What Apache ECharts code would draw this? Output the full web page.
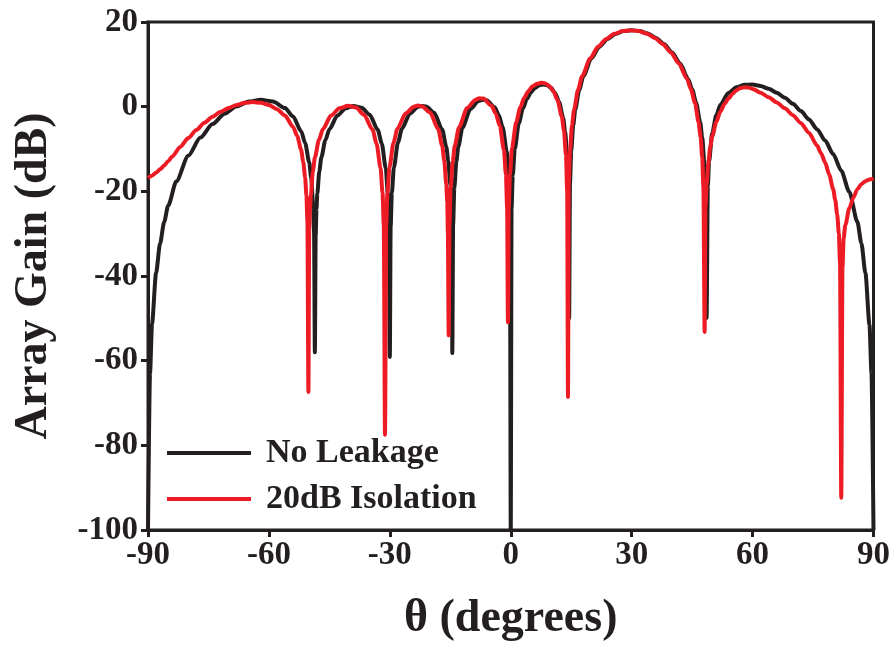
<!DOCTYPE html>
<html>
<head>
<meta charset="utf-8">
<script src="https://cdn.jsdelivr.net/npm/echarts@6/dist/echarts.min.js"></script>
<style>
html,body{margin:0;padding:0;background:#fff;}
#c{width:893px;height:648px;}
</style>
</head>
<body>
<div id="c"></div>
<script>
// No Leakage curve (theta in degrees, gain in dB)
var noLeakTheta = [-90,-89.5,-89,-88,-87,-86,-85,-83,-80,-77,-74,-71,-68,-65,-62,-59,-56,-54,-52,-51,-50,-49.5,-49,-48.8,-48.6,
  -48.4,-48.2,-48,-47.5,-47,-46,-45,-43,-41,-39,-37,-35,-33,-32,-31,-30.5,-30.2,-30,
  -29.8,-29.5,-29,-28,-27,-25,-23,-22,-21,-19,-17,-16,-15.5,-15,-14.8,-14.6,-14.5,
  -14.3,-14,-13.5,-13,-12,-10,-8,-7,-6,-4,-3,-2,-1,-0.5,-0.2,0,
  0.2,0.5,1,2,3,4,5,6,7,8,9,10,11,12,13,13.5,14,14.3,14.48,
  14.7,15,15.5,16,17,18,20,22,24,26,28,30,32,34,36,38,40,42,44,45,46,47,47.5,48,48.3,48.59,
  48.9,49.2,50,51,52,54,56,58,60,62,64,66,68,70,72,74,76,78,80,82,84,86,87,88,89,89.5,90];
var noLeakGain = [-100,-63,-51.3,-39.3,-32.3,-27.3,-23.4,-17.7,-11.6,-7.3,-4.1,-1.65,0.11,1.21,1.63,1.22,-0.32,-2.34,-5.81,-8.64,-13.19,-16.9,-23.8,-29.7,-58,
  -30.5,-24.2,-20.6,-15.3,-12.0,-7.94,-5.33,-2.09,-0.42,0.17,-0.26,-1.9,-5.46,-8.69,-14.57,-20.6,-28.4,-59.1,
  -28.4,-20.4,-14.4,-8.53,-5.22,-1.59,-0.04,0.17,0.03,-1.46,-5.42,-9.44,-12.8,-18.5,-22.7,-31,-58.2,
  -27.8,-19.2,-13.0,-9.4,-5.0,-0.54,1.34,1.62,1.5,-0.13,-1.92,-4.88,-10.47,-16.3,-24.2,-100,
  -24.1,-16.2,-10.0,-3.92,-0.49,1.79,3.36,4.41,5.03,5.26,5.09,4.45,3.23,1.13,-2.62,-5.88,-11.8,-20.2,-50,
  -18.1,-10.5,-4.42,-0.75,4.0,7.18,11.43,14.17,16.01,17.19,17.85,18.06,17.86,17.26,16.25,14.8,12.84,10.21,6.56,4.11,0.93,-3.69,-7.19,-12.7,-19.0,-49.9,
  -18.8,-13.0,-6.14,-2.01,0.44,3.21,4.59,5.17,5.24,4.9,4.24,3.3,2.11,0.66,-1.05,-3.03,-5.33,-8.02,-11.21,-15.13,-20.15,-27.2,-32.3,-39.3,-51.5,-63,-100];

// 20dB Isolation curve
var isoTheta = [-90,-89,-88,-87,-86,-85,-84,-82,-80,-78,-76,-74,-72,-70,-68,-66,-64,-62,-60,-58,-56,-54,-53,-52,-51.5,-51,-50.7,-50.45,-50.2,
  -50.0,-49.8,-49.6,-49.1,-48.6,-47.6,-46.6,-44.6,-42.5,-40.4,-38.4,-36.4,-34.3,-33.3,-32.3,-31.8,-31.5,-31.2,
  -30.9,-30.6,-30.1,-29.1,-28.1,-26.1,-24.05,-23.05,-22.05,-20.0,-18.0,-17.0,-16.5,-16.0,-15.75,-15.6,-15.4,
  -15.2,-14.9,-14.4,-13.9,-12.85,-10.8,-8.8,-7.8,-6.8,-4.75,-3.75,-2.7,-1.7,-1.2,-0.9,-0.7,
  -0.5,-0.2,0.3,1.35,2.35,3.35,4.4,5.4,6.5,7.5,8.6,9.6,10.6,11.6,12.65,13.2,13.7,14.0,14.2,
  14.4,14.7,15.2,15.7,16.7,17.7,19.7,21.7,23.7,25.7,27.7,29.7,31.7,33.7,35.7,37.7,39.7,41.7,43.7,44.7,45.7,46.6,47.1,47.5,47.8,48.1,
  48.3,48.6,49.0,49.5,50,51,52,53,54,55,56,57,58,59,60,62,64,66,68,70,72,74,76,77,78,79,80,80.5,81,81.4,81.7,82.0,
  82.3,82.6,83,84,85,86,87,88,89,90];
var isoGain = [-16.8,-16.3,-15.6,-14.8,-13.9,-12.9,-11.8,-9.5,-7.4,-5.5,-3.8,-2.4,-1.2,-0.3,0.4,0.9,1.1,0.9,0.4,-0.6,-2.1,-4.8,-6.9,-10.2,-13.0,-16.8,-21,-27,-67.4,
  -29,-24,-21,-15.3,-12.0,-7.9,-5.3,-2.1,-0.4,0.2,-0.2,-1.9,-5.4,-8.7,-14.5,-20.5,-28,-77.5,
  -28,-20.4,-14.4,-8.5,-5.2,-1.6,0.0,0.3,0.1,-1.4,-5.3,-9.3,-12.7,-18.4,-22.6,-30,-54,
  -28,-19.2,-13.0,-9.3,-4.9,-0.3,1.6,2.0,1.9,0.2,-1.6,-4.6,-10.2,-16.1,-24,-50.9,
  -24,-16.1,-9.8,-3.7,-0.2,2.1,3.7,4.8,5.4,5.65,5.5,4.85,3.6,1.5,-2.3,-5.6,-11.5,-20,-68.6,
  -18,-10.5,-4.4,-0.75,4.0,7.2,11.4,14.2,16.0,17.2,17.85,18.06,17.86,17.26,16.25,14.8,12.84,10.2,6.6,4.1,0.9,-3.7,-7.2,-12,-19,-53.2,
  -24,-18.5,-13.5,-9.5,-7,-3.6,-1.2,0.6,1.9,3.0,3.9,4.4,4.6,4.5,4.2,3.3,2.2,1.0,-0.4,-2.0,-3.9,-6.2,-9.2,-11.0,-13.2,-16.0,-19.5,-22,-25.5,-30,-37,-92.4,
  -38,-31,-28,-24,-21.5,-19.5,-18.3,-17.6,-17.2,-17.0];

var seriesNames = ['No Leakage', '20dB Isolation'];
var seriesColors = ['#231f20', '#ed1c24'];
var xTicks = [-90, 90, 30];
var yTicks = [-100, 20, 20];

function zip(a, b) { return a.map(function (v, i) { return [v, b[i]]; }); }

var font = '"Liberation Serif","Times New Roman",serif';
var ink = '#231f20';
var chart = echarts.init(document.getElementById('c'), null, {renderer: 'canvas'});
chart.setOption({
  animation: false,
  backgroundColor: '#fff',
  grid: {left: 148, right: 16, top: 22, bottom: 118, show: true, borderColor: ink, borderWidth: 3, backgroundColor: 'transparent'},
  legend: {
    orient: 'vertical', left: 162, top: 431, itemGap: 12,
    icon: 'rect', itemWidth: 84, itemHeight: 4,
    data: seriesNames,
    textStyle: {fontFamily: font, fontWeight: 'bold', fontSize: 34, color: ink, padding: [0, 0, 0, 10]}
  },
  xAxis: {
    type: 'value', min: xTicks[0], max: xTicks[1], interval: xTicks[2],
    name: 'θ (degrees)', nameLocation: 'middle', nameGap: 66,
    nameTextStyle: {fontFamily: font, fontWeight: 'bold', fontSize: 46, color: ink},
    axisLine: {onZero: false, lineStyle: {color: ink, width: 3}},
    axisTick: {inside: false, length: 7, lineStyle: {color: ink, width: 3}},
    axisLabel: {fontFamily: font, fontWeight: 'bold', fontSize: 33, color: ink, margin: 9},
    splitLine: {show: false}
  },
  yAxis: {
    type: 'value', min: yTicks[0], max: yTicks[1], interval: yTicks[2],
    name: 'Array Gain (dB)', nameLocation: 'middle', nameRotate: 90, nameGap: 91,
    nameTextStyle: {fontFamily: font, fontWeight: 'bold', fontSize: 46, color: ink},
    axisLine: {onZero: false, lineStyle: {color: ink, width: 3}},
    axisTick: {inside: false, length: 7, lineStyle: {color: ink, width: 3}},
    axisLabel: {fontFamily: font, fontWeight: 'bold', fontSize: 33, color: ink, margin: 10},
    splitLine: {show: false}
  },
  series: [
    {name: seriesNames[0], type: 'line', data: zip(noLeakTheta, noLeakGain), showSymbol: false, symbol: 'none',
     smooth: 0.25, smoothMonotone: 'x', clip: true,
     lineStyle: {color: seriesColors[0], width: 4}, itemStyle: {color: seriesColors[0]}},
    {name: seriesNames[1], type: 'line', data: zip(isoTheta, isoGain), showSymbol: false, symbol: 'none',
     smooth: 0.25, smoothMonotone: 'x', clip: true,
     lineStyle: {color: seriesColors[1], width: 4}, itemStyle: {color: seriesColors[1]}}
  ]
});
</script>
</body>
</html>
